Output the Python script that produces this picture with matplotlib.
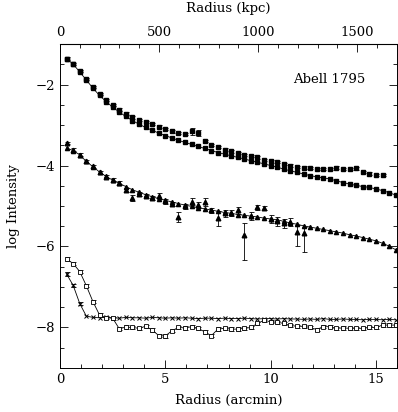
import numpy as np
import matplotlib
matplotlib.use("Agg")
import matplotlib.pyplot as plt
from matplotlib.ticker import MultipleLocator, FixedLocator

plt.rcParams["font.family"] = ["DejaVu Serif"]
plt.rcParams["font.size"] = 9.5

# ── data (log intensity vs radius in arcmin) ─────────────────────────────────
KPC_PER_ARCMIN = 106.3
r = np.arange(1, 52) * 0.3125          # radial bin centres, arcmin

kpc_ticks = [0, 500, 1000, 1500]
kpc_minor = [100, 200, 300, 400, 600, 700, 800, 900,
             1100, 1200, 1300, 1400, 1600]

# upper filled squares with error bars (49 bins)
prof_a = [-1.36, -1.49, -1.67, -1.87, -2.06, -2.24, -2.38, -2.51, -2.62, -2.72,
          -2.81, -2.88, -2.93, -2.98, -3.04, -3.10, -3.16, -3.20, -3.22, -3.16,
          -3.20, -3.40, -3.49, -3.55, -3.61, -3.65, -3.69, -3.74, -3.77, -3.80,
          -3.86, -3.90, -3.92, -3.96, -4.00, -4.03, -4.05, -4.06, -4.09, -4.09,
          -4.08, -4.05, -4.08, -4.08, -4.07, -4.16, -4.20, -4.24, -4.24]
err_a = [0.03] * 19 + [0.08, 0.07] + [0.03] * 28

# lower filled squares joined by a line (51 bins)
prof_b = [-1.36, -1.50, -1.69, -1.89, -2.09, -2.27, -2.42, -2.56, -2.68, -2.79,
          -2.89, -2.98, -3.06, -3.13, -3.20, -3.26, -3.32, -3.38, -3.43, -3.48,
          -3.53, -3.58, -3.63, -3.68, -3.72, -3.76, -3.80, -3.84, -3.88, -3.92,
          -3.96, -4.00, -4.04, -4.09, -4.13, -4.17, -4.21, -4.25, -4.28, -4.31,
          -4.33, -4.38, -4.42, -4.46, -4.49, -4.52, -4.54, -4.58, -4.62, -4.67,
          -4.73]

# triangles with error bars (37 bins)
prof_c = [-3.44, -3.61, -3.73, -3.90, -4.02, -4.17, -4.28, -4.35, -4.43, -4.60,
          -4.80, -4.70, -4.76, -4.80, -4.75, -4.88, -4.95, -5.26, -5.01, -4.89,
          -4.97, -4.90, -5.11, -5.30, -5.18, -5.17, -5.11, -5.71, -5.24, -5.03,
          -5.05, -5.32, -5.38, -5.42, -5.40, -5.63, -5.67]
err_c_lo = [0.03, 0.03, 0.03, 0.03, 0.03, 0.03, 0.04, 0.04, 0.04, 0.05,
            0.07, 0.05, 0.05, 0.05, 0.08, 0.06, 0.06, 0.14, 0.06, 0.09,
            0.07, 0.10, 0.07, 0.20, 0.08, 0.08, 0.08, 0.63, 0.10, 0.06,
            0.06, 0.10, 0.12, 0.12, 0.10, 0.37, 0.46]
err_c_hi = [0.03, 0.03, 0.03, 0.03, 0.03, 0.03, 0.04, 0.04, 0.04, 0.05,
            0.07, 0.05, 0.05, 0.05, 0.08, 0.06, 0.06, 0.12, 0.06, 0.09,
            0.07, 0.09, 0.07, 0.17, 0.08, 0.08, 0.08, 0.30, 0.10, 0.06,
            0.06, 0.10, 0.11, 0.11, 0.10, 0.16, 0.16]

# triangles joined by a line (51 bins)
prof_d = [-3.57, -3.63, -3.74, -3.90, -4.03, -4.16, -4.27, -4.36, -4.44, -4.52,
          -4.60, -4.66, -4.72, -4.77, -4.82, -4.86, -4.90, -4.94, -4.98, -5.01,
          -5.04, -5.07, -5.10, -5.13, -5.16, -5.18, -5.21, -5.23, -5.25, -5.27,
          -5.30, -5.32, -5.34, -5.38, -5.42, -5.45, -5.49, -5.52, -5.55, -5.58,
          -5.61, -5.64, -5.67, -5.71, -5.74, -5.78, -5.82, -5.86, -5.92, -5.99,
          -6.08]

# open squares (background) with error bars (51 bins)
prof_e = [-6.31, -6.42, -6.62, -6.97, -7.36, -7.69, -7.76, -7.77, -8.03, -7.99,
          -8.00, -8.02, -7.97, -8.06, -8.20, -8.21, -8.08, -8.00, -8.01, -7.98,
          -8.02, -8.11, -8.20, -8.04, -8.02, -8.04, -8.04, -8.02, -8.00, -7.90,
          -7.82, -7.86, -7.87, -7.90, -7.95, -7.97, -7.97, -8.00, -8.05, -7.98,
          -7.98, -8.02, -8.01, -8.02, -8.02, -8.02, -8.00, -8.00, -7.94, -7.94,
          -7.94]

# crosses (51 bins)
prof_f = [-6.68, -6.96, -7.41, -7.72, -7.75, -7.76, -7.75, -7.76, -7.77, -7.75,
          -7.76, -7.76, -7.77, -7.75, -7.76, -7.77, -7.76, -7.77, -7.76, -7.77,
          -7.78, -7.77, -7.77, -7.78, -7.77, -7.78, -7.78, -7.77, -7.78, -7.79,
          -7.78, -7.78, -7.79, -7.78, -7.79, -7.79, -7.80, -7.79, -7.80, -7.78,
          -7.80, -7.80, -7.79, -7.80, -7.80, -7.81, -7.80, -7.80, -7.81, -7.80,
          -7.81]

# ── plot ─────────────────────────────────────────────────────────────────────
fig = plt.figure(figsize=(3.98, 4.12), dpi=100)
ax = fig.add_axes([0.1508, 0.1068, 0.8467, 0.7864])

eb = dict(ecolor="black", elinewidth=0.6, capsize=1.8, capthick=0.6)

ax.errorbar(r[:len(prof_a)], prof_a, yerr=err_a, fmt="s", ms=3.0,
            color="black", **eb)
ax.plot(r, prof_b, "s-", ms=3.0, color="black", lw=0.6)

ax.errorbar(r[:len(prof_c)], prof_c, yerr=[err_c_lo, err_c_hi], fmt="^",
            ms=3.3, color="black", **eb)
ax.plot(r, prof_d, "^-", ms=3.0, color="black", lw=0.6)

ax.errorbar(r, prof_e, yerr=0.04, fmt="s-", ms=3.5, mfc="white",
            mec="black", mew=0.6, color="black", lw=0.6, **eb)
ax.errorbar(r[:3], prof_f[:3], yerr=0.04, fmt="none", **eb)
ax.plot(r, prof_f, "x-", ms=3.2, mew=0.7, color="black", lw=0.6)

ax.set_xlim(0, 16)
ax.set_ylim(-9, -1)
ax.set_xlabel("Radius (arcmin)", labelpad=6)
ax.set_ylabel("log Intensity", labelpad=11)
ax.text(12.8, -1.88, "Abell 1795", ha="center", va="center")

ax.xaxis.set_major_locator(MultipleLocator(5))
ax.xaxis.set_minor_locator(MultipleLocator(1))
ax.yaxis.set_major_locator(MultipleLocator(2))
ax.yaxis.set_minor_locator(MultipleLocator(0.5))
ax.tick_params(which="both", direction="in", right=True, top=False)
ax.tick_params(which="major", length=6, width=0.6)
ax.tick_params(which="minor", length=3, width=0.6)
for s in ax.spines.values():
    s.set_linewidth(0.7)

top = ax.secondary_xaxis("top", functions=(lambda x: x * KPC_PER_ARCMIN,
                                           lambda k: k / KPC_PER_ARCMIN))
top.set_xlabel("Radius (kpc)", labelpad=10)
top.xaxis.set_major_locator(FixedLocator(kpc_ticks))
top.xaxis.set_minor_locator(FixedLocator(kpc_minor))
top.tick_params(which="both", direction="in")
top.tick_params(which="major", length=6, width=0.6)
top.tick_params(which="minor", length=3, width=0.6)

fig.savefig("out.png", dpi=100)
